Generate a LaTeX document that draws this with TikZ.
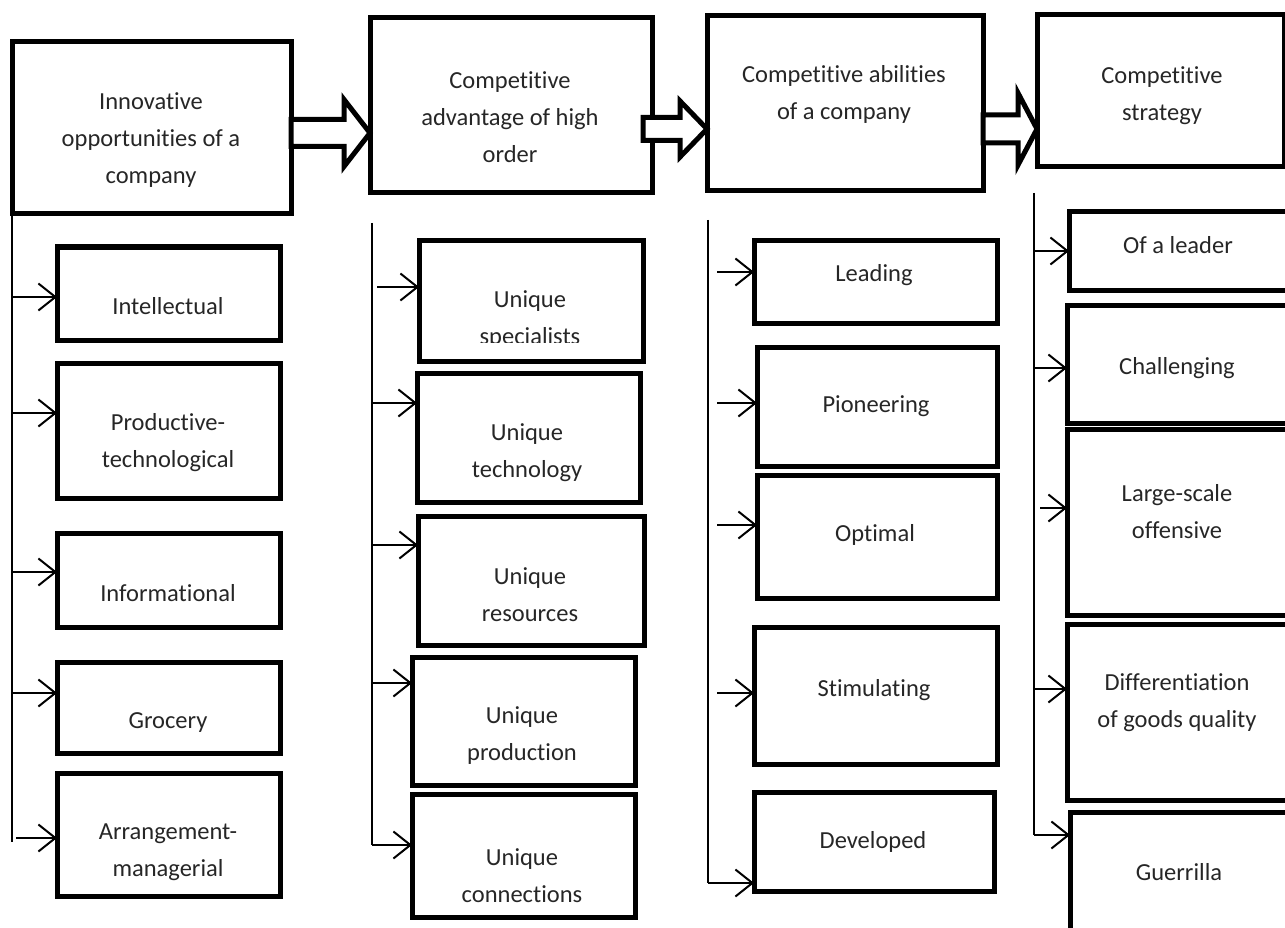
\documentclass[tikz,border=0pt]{standalone}
\usepackage{fontspec}
\setmainfont{Carlito}[Ligatures=NoCommon]
\usetikzlibrary{arrows.meta,fit,calc}
\newcommand\dtf{\fontsize{24.5}{37}\selectfont}
\newcommand\blockarr[5]{%
  \draw[barrow] ($(#1)+(0,-#3)$) -- ($(#2)+(-#5,-#3)$) -- ($(#2)+(-#5,-#4)$) -- (#2)
    -- ($(#2)+(-#5,#4)$) -- ($(#2)+(-#5,#3)$) -- ($(#1)+(0,#3)$) -- cycle;}
\newcommand\br[4]{\draw[arr] ($(#1|-0,#3)+(#4,0)$) -- (#2.west|-0,#3);}
\tikzset{
  box/.style={draw, line width=5pt, inner sep=0pt, outer sep=0pt},
  txt/.style={font=\dtf, align=center, inner sep=0pt, text=black!85},
  conn/.style={line width=2pt},
  arr/.style={line width=2pt, -{Straight Barb[length=17pt,width=27pt]}},
  barrow/.style={line width=5pt, fill=white, line join=miter}
}
\begin{document}
\begin{tikzpicture}[x=1pt,y=-1pt]
\useasboundingbox (0,0) rectangle (1285,928);
\clip (0,0) rectangle (1285,928);
% top boxes
\node[box, fit={(12,42)(291,214)}] (b1) {};
\node[box, fit={(370,18)(652,193)}] (b2) {};
\node[box, fit={(707,16)(983,191)}] (b3) {};
\node[box, fit={(1037,15)(1284,167)}] (b4) {};
\node[txt] (t1) at (151,140) {Innovative\\opportunities of a\\company};
\node[txt] (t2) at (510,117) {Competitive\\advantage of high\\order};
\node[txt] (t3) at (844,94) {Competitive abilities\\of a company};
\node[txt] (t4) at (1162,96) {Competitive\\strategy};
% block arrows
\coordinate (a1s) at (b1.east|-0,133);
\coordinate (a1t) at (b2.west|-0,133);
\blockarr{a1s}{a1t}{13.5}{33.5}{26}
\coordinate (a2s) at ($(b2.east|-0,129)+(-9,0)$);
\coordinate (a2t) at (b3.west|-0,129);
\blockarr{a2s}{a2t}{11.5}{28}{27}
\coordinate (a3s) at (b3.east|-0,129);
\coordinate (a3t) at (b4.west|-0,129);
\blockarr{a3s}{a3t}{14}{36}{19}
% column 1
\node[box, fit={(57,247)(280,340)}] (c11) {};
\node[box, fit={(57,363)(280,498)}] (c12) {};
\node[box, fit={(57,533)(280,627)}] (c13) {};
\node[box, fit={(57,662)(280,753)}] (c14) {};
\node[box, fit={(57,773)(280,896)}] (c15) {};
\node[txt] (t11) at (168,306) {Intellectual};
\node[txt] (t12) at (168,443) {Productive-\\technological};
\node[txt] (t13) at (168,593) {Informational};
\node[txt] (t14) at (168,723) {Grocery};
\begin{scope}
\clip (57,773) rectangle (280,882);
\node[txt] (t15) at (168,852) {Arrangement-\\managerial};
\end{scope}
\coordinate (v1a) at (b1.south-|12,0);
\coordinate (v1b) at (12,842);
\draw[conn] (v1a) -- (v1b);
\br{v1a}{c11}{297}{0}
\br{v1a}{c12}{413}{0}
\br{v1a}{c13}{572}{0}
\br{v1a}{c14}{693}{0}
\br{v1a}{c15}{838}{4}
% column 2
\node[box, fit={(419,241)(643,361)}] (c21) {};
\node[box, fit={(417,373)(640,502)}] (c22) {};
\node[box, fit={(418,516)(644,645)}] (c23) {};
\node[box, fit={(412,657)(635,785)}] (c24) {};
\node[box, fit={(412,794)(635,917)}] (c25) {};
\begin{scope}
\clip (419,241) rectangle (643,342);
\node[txt] (t21) at (530,320) {Unique\\specialists};
\end{scope}
\node[txt] (t22) at (527,453) {Unique\\technology};
\node[txt] (t23) at (530,595) {Unique\\resources};
\node[txt] (t24) at (522,736) {Unique\\production};
\node[txt] (t25) at (522,876) {Unique\\connections};
\coordinate (v2a) at (372,223);
\coordinate (v2b) at (372,845);
\draw[conn] (v2a) -- (v2b);
\br{v2a}{c21}{287}{5}
\br{v2a}{c22}{403}{0}
\br{v2a}{c23}{545}{0}
\br{v2a}{c24}{683}{0}
\br{v2a}{c25}{845}{0}
% column 3
\node[box, fit={(754,241)(997,323)}] (c31) {};
\node[box, fit={(757,347)(997,466)}] (c32) {};
\node[box, fit={(757,475)(997,598)}] (c33) {};
\node[box, fit={(754,627)(997,764)}] (c34) {};
\node[box, fit={(754,792)(994,891)}] (c35) {};
\node[txt] (t31) at (874,275) {Leading};
\node[txt] (t32) at (876,406) {Pioneering};
\node[txt] (t33) at (875,535) {Optimal};
\node[txt] (t34) at (874,690) {Stimulating};
\node[txt] (t35) at (873,842) {Developed};
\coordinate (v3a) at (708,220);
\coordinate (v3b) at (708,883);
\draw[conn] (v3a) -- (v3b);
\br{v3a}{c31}{272}{9}
\br{v3a}{c32}{403}{9}
\br{v3a}{c33}{525}{9}
\br{v3a}{c34}{693}{9}
\br{v3a}{c35}{883}{0}
% column 4
\node[box, fit={(1069,212)(1287,290)}] (c41) {};
\node[box, fit={(1067,305)(1287,423)}] (c42) {};
\node[box, fit={(1067,429)(1287,615)}] (c43) {};
\node[box, fit={(1067,624)(1287,800)}] (c44) {};
\node[box, fit={(1070,812)(1287,945)}] (c45) {};
\node[txt] (t41) at (1178,245) {Of a leader};
\node[txt] (t42) at (1177,368) {Challenging};
\node[txt] (t43) at (1177,512) {Large-scale\\offensive};
\node[txt] (t44) at (1177,703) {Differentiation\\of goods quality};
\node[txt] (t45) at (1179,872) {Guerrilla};
\coordinate (v4a) at (1034,193);
\coordinate (v4b) at (1034,835);
\draw[conn] (v4a) -- (v4b);
\br{v4a}{c41}{251}{0}
\br{v4a}{c42}{368}{0}
\br{v4a}{c43}{508}{6}
\br{v4a}{c44}{689}{0}
\br{v4a}{c45}{835}{0}
\end{tikzpicture}
\end{document}
